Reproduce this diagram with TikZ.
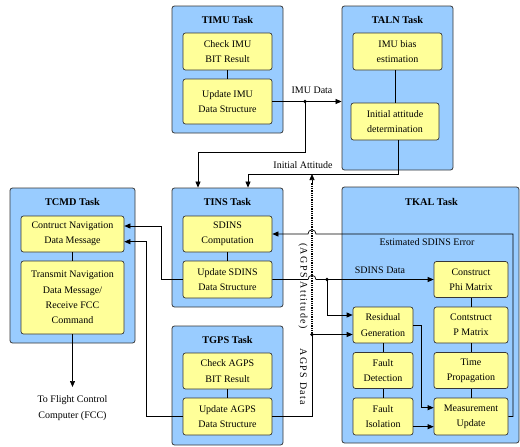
\documentclass[tikz,border=0pt]{standalone}
\usepackage{fontspec}
\setmainfont{Liberation Serif}
\usetikzlibrary{arrows.meta}
\definecolor{taskblue}{RGB}{153,204,255}
\definecolor{subyel}{RGB}{255,255,153}
\definecolor{edgecol}{RGB}{55,55,55}
\begin{document}
\begin{tikzpicture}[x=1pt,y=-1pt,
 font=\fontsize{10}{15.3}\selectfont,
 task/.style={draw=edgecol, fill=taskblue, rounded corners=2.5pt, line width=0.8pt, inner sep=0pt},
 sub/.style={draw=edgecol, fill=subyel, rounded corners=2.5pt, line width=0.7pt, align=center, inner sep=0pt},
 ttl/.style={font=\fontsize{10.3}{12}\selectfont\bfseries, inner sep=0pt},
 conn/.style={line width=0.7pt, draw=black},
 arr/.style={conn, -{Triangle[length=6pt,width=5pt]}},
 dotline/.style={line width=1.4pt, dash pattern=on 1pt off 0.8pt},
 lbl/.style={inner sep=0pt, align=center}
]
\useasboundingbox (0,0) rectangle (520,447);

% ---------- task boxes ----------
\node[task, minimum width=111pt, minimum height=127pt] (timu) at (227.5,69.5) {};
\node[task, minimum width=111pt, minimum height=164pt] (taln) at (397.5,88) {};
\node[task, minimum width=111pt, minimum height=119pt] (tins) at (227.5,247.5) {};
\node[task, minimum width=125pt, minimum height=155pt] (tcmd) at (72.5,265.5) {};
\node[task, minimum width=111pt, minimum height=119pt] (tgps) at (227.5,385.5) {};
\node[task, minimum width=177pt, minimum height=256pt] (tkal) at (430.5,315) {};

\node[ttl] (timuT) at (227.5,20) {TIMU Task};
\node[ttl] (talnT) at (397.5,20) {TALN Task};
\node[ttl] (tinsT) at (227.5,201.5) {TINS Task};
\node[ttl] (tcmdT) at (72.5,202) {TCMD Task};
\node[ttl] (tgpsT) at (227.5,340) {TGPS Task};
\node[ttl] (tkalT) at (431.5,201.5) {TKAL Task};

% ---------- sub boxes ----------
\node[sub, minimum width=89pt, minimum height=37pt] (chkimu) at (227.5,51.5) {Check IMU\\BIT Result};
\node[sub, minimum width=89pt, minimum height=45pt] (updimu) at (227.5,101.5) {Update IMU\\Data Structure};
\node[sub, minimum width=89pt, minimum height=37pt] (bias) at (397.5,51.5) {IMU bias\\estimation};
\node[sub, minimum width=88pt, minimum height=37pt] (initatt) at (395,121.5) {Initial attitude\\determination};
\node[sub, minimum width=89pt, minimum height=36pt] (sdcomp) at (227.5,234) {SDINS\\Computation};
\node[sub, minimum width=89pt, minimum height=37pt] (updsd) at (227.5,279.5) {Update SDINS\\Data Structure};
\node[sub, minimum width=103pt, minimum height=36pt] (contnav) at (72.5,234) {Contruct Navigation\\Data Message};
\node[sub, minimum width=103pt, minimum height=73pt] (transmit) at (72.5,297.5) {Transmit Navigation\\Data Message/\\Receive FCC\\Command};
\node[sub, minimum width=89pt, minimum height=36pt] (chkagps) at (227.5,371) {Check AGPS\\BIT Result};
\node[sub, minimum width=89pt, minimum height=37pt] (updagps) at (227.5,416.5) {Update AGPS\\Data Structure};
\node[sub, minimum width=74pt, minimum height=36pt] (phi) at (471,279.5) {Construct\\Phi Matrix};
\node[sub, minimum width=74pt, minimum height=36pt] (pmat) at (471,325) {Contstruct\\P Matrix};
\node[sub, minimum width=74pt, minimum height=36pt] (tprop) at (471,370.5) {Time\\Propagation};
\node[sub, minimum width=74pt, minimum height=37pt] (meas) at (471,416.5) {Measurement\\Update};
\node[sub, minimum width=60pt, minimum height=36pt] (resid) at (383,325) {Residual\\Generation};
\node[sub, minimum width=60pt, minimum height=36pt] (fdet) at (383,370.5) {Fault\\Detection};
\node[sub, minimum width=60pt, minimum height=37pt] (fiso) at (383,416.5) {Fault\\Isolation};

% ---------- internal links ----------
\draw[conn] (chkimu) -- (updimu);
\draw[conn] (initatt.north) -- (initatt.north |- bias.south);
\draw[conn] (sdcomp) -- (updsd);
\draw[conn] (contnav) -- (transmit);
\draw[conn] (chkagps) -- (updagps);
\draw[conn] (phi) -- (pmat);
\draw[conn] (pmat) -- (tprop);
\draw[conn] (tprop) -- (meas);
\draw[conn] (resid) -- (fdet);
\draw[conn] (fdet) -- (fiso);

% ---------- coordinates ----------
\coordinate (d1) at (305,101.5);
\coordinate (k1) at (198,152);
\coordinate (k2) at (398,174);
\coordinate (k3) at (248,174);
\coordinate (ag) at (312,334.5);
\coordinate (agtop) at (312,174);
\coordinate (agmid) at (312,183);
\coordinate (agbot) at (312,416.5);
\coordinate (d2) at (327,279.5);
\coordinate (k4) at (327,315);
\coordinate (e1) at (513,416.5);
\coordinate (e2) at (513,234);
\coordinate (h1a) at (316,234);
\coordinate (h1b) at (308,234);
\coordinate (h2a) at (308,279.5);
\coordinate (h2b) at (316,279.5);
\coordinate (c1) at (161,279.5);
\coordinate (c2) at (161,226);
\coordinate (c3) at (146,416.5);
\coordinate (c4) at (146,241.7);
\coordinate (r1) at (421.7,325.7);
\coordinate (r2) at (421.7,407.7);
\coordinate (fcc) at (72.5,387);

% ---------- connectors ----------
% IMU Data
\draw[arr] (updimu.east) -- (updimu.east -| taln.west);
\fill (d1) circle (1.8pt);
\draw[arr] (d1) |- (k1) -- (k1 |- tins.north);
\node[lbl] (limu) at (312,90) {IMU Data};

% Initial attitude
\draw[arr] (initatt.south -| k2) -- (k2) -- (k3) -- (k3 |- tins.north);
\node[lbl] (linit) at (303,165) {Initial Attitude};

% AGPS attitude (dotted) and AGPS data
\draw[dotline] (ag) -- (agmid);
\draw[arr] (agmid) -- (agtop);
\draw[conn] (updagps.east |- agbot) -- (agbot) -- (ag);
\fill (ag) circle (1.8pt);
\draw[arr] (ag) -- (ag -| resid.west);
\node[lbl, rotate=-90] (lagatt) at (303,286) {\addfontfeature{LetterSpace=14}(AGPS Attitude)};
\node[lbl, rotate=-90] (lagdat) at (303.5,377) {\addfontfeature{LetterSpace=14}AGPS Data};

% Estimated SDINS error
\draw[arr] (meas.east) -- (e1) -- (e2) -- (h1a) .. controls (316,228.5) and (308,228.5) .. (h1b) -- (h1b -| sdcomp.east);
\node[lbl] (lest) at (427,242.5) {Estimated SDINS Error};

% SDINS data
\draw[arr] (updsd.east) -- (h2a) .. controls (308,274) and (316,274) .. (h2b) -- (h2b -| phi.west);
\fill (d2) circle (1.8pt);
\draw[arr] (d2) -- (k4) -- (k4 -| resid.west);
\node[lbl] (lsd) at (380,270.5) {SDINS Data};

% To TCMD
\draw[arr] (updsd.west) -- (c1) -- (c2) -- (c2 -| contnav.east);
\draw[arr] (updagps.west |- c3) -- (c3) -- (c4) -- (c4 -| contnav.east);

% TKAL internal arrows
\draw[arr] (resid.east |- r1) -- (r1) -- (r2) -- (r2 -| meas.west);
\draw[arr] (fiso.east |- 0,426.7) -- (meas.west |- 0,426.7);

% To FCC
\draw[arr] (transmit.south) -- (fcc);
\node[lbl] (lfcc) at (72.5,408) {To Flight Control\\Computer (FCC)};

\end{tikzpicture}
\end{document}
